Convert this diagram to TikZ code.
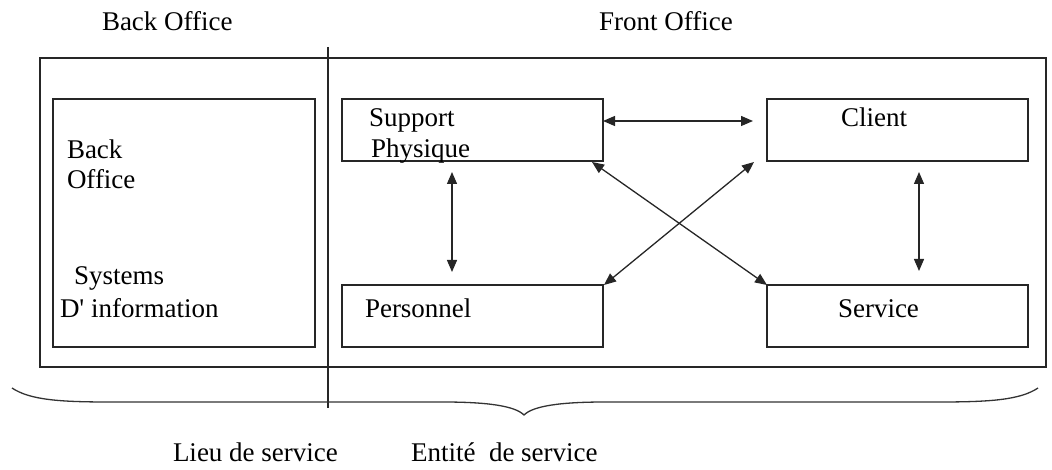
\documentclass[tikz,border=0pt]{standalone}
\usepackage{fontspec}
\setmainfont{Liberation Serif}
\usetikzlibrary{arrows.meta}

\tikzset{
  box/.style={draw=black!85, line width=1.3pt, rectangle, inner sep=0pt, outer sep=0pt},
  lbl/.style={anchor=base west, inner sep=0pt, outer sep=0pt,
              font=\fontsize{27}{30}\selectfont},
  dar/.style={{Triangle[length=12pt,width=10pt]}-{Triangle[length=12pt,width=10pt]},
              line width=1.3pt, black!85},
  rule/.style={line width=1.3pt, black!85}
}

\begin{document}
\begin{tikzpicture}[x=1pt,y=-1pt]
  \useasboundingbox (0,0) rectangle (1052,470);

  % headings
  \node[lbl] (tback)  at (102,31) {Back Office};
  \node[lbl] (tfront) at (599,31) {Front Office};

  % frame and the dividing rule
  \node[box, minimum width=1006pt, minimum height=309pt] (frame) at (543,212.5) {};
  \coordinate (divtop) at (328,47);
  \coordinate (divbot) at (328,408);
  \draw[rule] (divtop) -- (divbot);

  % back office block
  \node[box, minimum width=262pt, minimum height=248pt] (bo) at (184,223) {};
  \node[lbl] (bo1) at (67,159) {Back};
  \node[lbl] (bo2) at (67,189) {Office};
  \node[lbl] (bo3) at (74,285) {Systems};
  \node[lbl] (bo4) at (60,317) {D\textquotesingle{} information};

  % front office blocks
  \node[box, minimum width=261pt, minimum height=62pt] (sp) at (472.5,130) {};
  \node[box, minimum width=261pt, minimum height=62pt] (cl) at (897.5,130) {};
  \node[box, minimum width=261pt, minimum height=62pt] (pe) at (472.5,316) {};
  \node[box, minimum width=261pt, minimum height=62pt] (se) at (897.5,316) {};

  \node[lbl] (sp1) at (369,127) {Support};
  \node[lbl] (sp2) at (371,158) {Physique};
  \node[lbl] (cl1) at (841,127) {Client};
  \node[lbl] (pe1) at (365,317) {Personnel};
  \node[lbl] (se1) at (838,317) {Service};

  % links
  \draw[dar] ([yshift=9pt]sp.east) -- ([xshift=-14pt,yshift=9pt]cl.west);
  \draw[dar] ([xshift=-20.5pt,yshift=-11pt]sp.south) -- ([xshift=-20.5pt,yshift=13pt]pe.north);
  \draw[dar] ([xshift=21.5pt,yshift=-11pt]cl.south) -- ([xshift=21.5pt,yshift=14pt]se.north);
  \draw[dar] ([xshift=-11pt,yshift=-1pt]sp.south east) -- (se.north west);
  \draw[dar] ([xshift=-13pt,yshift=-1pt]cl.south west) -- ([xshift=1pt]pe.north east);

  % brace under the frame
  \coordinate (brl) at (12,388);
  \coordinate (brtip) at (524,415);
  \coordinate (brr) at (1038,388);
  \draw[line width=1.3pt, black!80]
    (brl) .. controls (30,400) and (60,402) .. (110,402) -- (443,402)
    .. controls (488,402) and (515,406) .. (brtip)
    .. controls (533,406) and (560,402) .. (605,402) -- (938,402)
    .. controls (990,402) and (1020,400) .. (brr);

  % captions
  \node[lbl] (cap1) at (173,461) {Lieu de service};
  \node[lbl] (cap2) at (411,461) {Entité\ \ de service};
\end{tikzpicture}
\end{document}
